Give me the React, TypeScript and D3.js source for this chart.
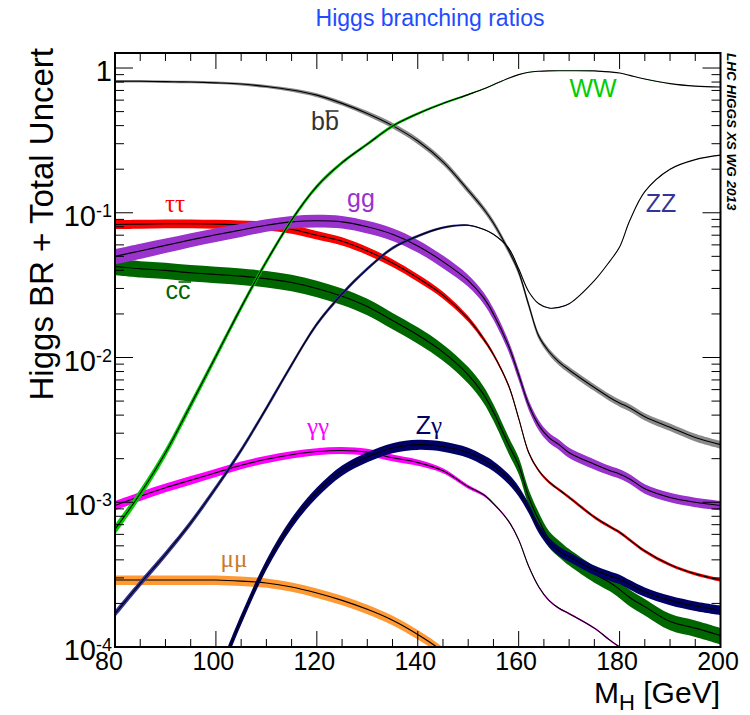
import React from "react";
import * as d3 from "d3";

// Higgs boson mass grid (GeV)
const massGrid = [80, 85, 90, 95, 100, 105, 110, 115, 120, 125, 130, 135, 140, 145, 150, 153, 155, 158, 160, 162, 164, 166, 168, 170, 175, 178, 180, 182, 185, 190, 195, 200];

// Branching ratios per decay channel (null where the channel is off the chart)
const brBB = [0.81, 0.81, 0.805, 0.8, 0.79, 0.775, 0.745, 0.705, 0.65, 0.57, 0.485, 0.4, 0.313, 0.225, 0.143, 0.107, 0.085, 0.055, 0.039, 0.023, 0.014, 0.011, 0.0093, 0.0082, 0.0062, 0.0053, 0.00485, 0.0045, 0.0039, 0.0033, 0.0028, 0.0025];
const brTauTau = [0.083, 0.0835, 0.084, 0.084, 0.0835, 0.0825, 0.081, 0.077, 0.07, 0.0635, 0.0545, 0.045, 0.0355, 0.027, 0.0185, 0.0135, 0.0105, 0.0064, 0.0038, 0.0022, 0.00165, 0.00138, 0.00122, 0.00108, 0.00079, 0.00068, 0.00062, 0.00055, 0.00046, 0.00037, 0.00032, 0.00029];
const brGG = [0.05, 0.0545, 0.0595, 0.065, 0.0705, 0.076, 0.082, 0.0865, 0.088, 0.0865, 0.08, 0.071, 0.059, 0.046, 0.034, 0.026, 0.02, 0.012, 0.0076, 0.0047, 0.0034, 0.0028, 0.0025, 0.0022, 0.00183, 0.00166, 0.00157, 0.00145, 0.00124, 0.00108, 0.001, 0.00095];
const brCC = [0.0425, 0.041, 0.04, 0.0385, 0.0375, 0.0365, 0.035, 0.033, 0.03, 0.0265, 0.0225, 0.018, 0.0143, 0.0109, 0.0076, 0.0056, 0.0042, 0.0025, 0.0018, 0.00108, 0.00075, 0.00056, 0.00048, 0.00042, 0.00032, 0.00028, 0.00025, 0.00022, 0.00019, 0.00015, 0.000135, 0.00012];
const brGamGam = [0.00095, 0.0011, 0.00126, 0.00142, 0.0016, 0.0018, 0.00198, 0.00213, 0.00224, 0.00228, 0.00222, 0.00203, 0.00188, 0.00165, 0.00128, 0.00113, 0.00098, 0.00074, 0.00055, 0.00036, 0.00026, 0.00021, 0.000185, 0.00017, 0.000135, 0.000112, 0.0001, 0.00009, 0.000078, 0.00006, 0.00005, 0.00004];
const brZGam = [null, null, null, null, 0.000058, 0.000155, 0.00037, 0.00072, 0.00117, 0.00166, 0.00205, 0.00237, 0.0025, 0.00243, 0.0022, 0.00196, 0.00178, 0.00145, 0.00119, 0.00091, 0.00066, 0.00053, 0.00046, 0.00042, 0.00034, 0.00031, 0.000294, 0.00027, 0.00024, 0.00021, 0.000192, 0.00018];
const brMuMu = [0.00029, 0.00029, 0.00029, 0.00029, 0.00029, 0.000285, 0.000277, 0.00026, 0.000236, 0.00021, 0.000182, 0.000153, 0.000122, 0.000093, 0.000065, null, null, null, null, null, null, null, null, null, null, null, null, null, null, null, null, null];
const brWW = [0.00065, 0.00115, 0.0022, 0.0047, 0.0102, 0.0222, 0.046, 0.089, 0.152, 0.222, 0.298, 0.397, 0.484, 0.569, 0.655, 0.715, 0.767, 0.85, 0.9, 0.935, 0.95, 0.956, 0.958, 0.958, 0.955, 0.94, 0.925, 0.89, 0.84, 0.78, 0.75, 0.74];
const brZZ = [0.00017, 0.000275, 0.000437, 0.00072, 0.00126, 0.00229, 0.00447, 0.0089, 0.017, 0.0275, 0.041, 0.057, 0.069, 0.079, 0.082, 0.077, 0.071, 0.057, 0.041, 0.0285, 0.0235, 0.022, 0.0222, 0.0235, 0.034, 0.046, 0.058, 0.088, 0.14, 0.2, 0.233, 0.25];

// Relative total uncertainty (half width of the band)
const uncBB = [0.02, 0.02, 0.02, 0.02, 0.02, 0.022, 0.025, 0.028, 0.032, 0.035, 0.04, 0.045, 0.048, 0.05, 0.05, 0.05, 0.05, 0.05, 0.05, 0.05, 0.05, 0.05, 0.052, 0.053, 0.055, 0.056, 0.057, 0.058, 0.058, 0.06, 0.06, 0.06];
const uncTauTau = [0.07, 0.07, 0.07, 0.07, 0.07, 0.07, 0.07, 0.07, 0.068, 0.066, 0.064, 0.062, 0.06, 0.055, 0.045, 0.038, 0.033, 0.028, 0.025, 0.025, 0.025, 0.025, 0.025, 0.025, 0.025, 0.025, 0.025, 0.025, 0.025, 0.025, 0.025, 0.025];
const uncGG = [0.12, 0.12, 0.115, 0.11, 0.11, 0.105, 0.1, 0.1, 0.1, 0.1, 0.1, 0.1, 0.1, 0.1, 0.095, 0.09, 0.09, 0.085, 0.085, 0.08, 0.08, 0.08, 0.08, 0.08, 0.08, 0.075, 0.075, 0.075, 0.075, 0.075, 0.075, 0.075];
const uncCC = [0.13, 0.13, 0.13, 0.13, 0.13, 0.13, 0.13, 0.13, 0.13, 0.13, 0.13, 0.13, 0.13, 0.13, 0.13, 0.13, 0.13, 0.13, 0.13, 0.13, 0.13, 0.13, 0.13, 0.13, 0.13, 0.13, 0.13, 0.13, 0.13, 0.13, 0.13, 0.13];
const uncGamGam = [0.075, 0.072, 0.07, 0.068, 0.065, 0.062, 0.06, 0.058, 0.056, 0.055, 0.055, 0.055, 0.05, 0.04, 0.03, 0.022, 0.018, 0.015, 0.015, 0.015, 0.015, 0.015, 0.015, 0.015, 0.015, 0.015, 0.015, 0.015, 0.015, 0.015, 0.015, 0.015];
const uncZGam = [null, null, null, null, 0.08, 0.08, 0.08, 0.08, 0.08, 0.08, 0.08, 0.08, 0.08, 0.08, 0.08, 0.08, 0.08, 0.08, 0.08, 0.078, 0.076, 0.075, 0.075, 0.075, 0.075, 0.075, 0.075, 0.075, 0.075, 0.075, 0.075, 0.075];
const uncMuMu = [0.075, 0.075, 0.075, 0.075, 0.075, 0.075, 0.075, 0.075, 0.075, 0.075, 0.075, 0.075, 0.075, 0.07, 0.07, null, null, null, null, null, null, null, null, null, null, null, null, null, null, null, null, null];
const uncWW = [0.08, 0.075, 0.07, 0.065, 0.058, 0.052, 0.046, 0.04, 0.035, 0.03, 0.027, 0.024, 0.021, 0.018, 0.012, 0.008, 0.006, 0.004, 0.003, 0.003, 0.003, 0.003, 0.003, 0.003, 0.003, 0.003, 0.003, 0.003, 0.003, 0.003, 0.003, 0.003];
const uncZZ = [0.055, 0.052, 0.05, 0.048, 0.045, 0.042, 0.04, 0.037, 0.034, 0.031, 0.028, 0.025, 0.022, 0.018, 0.012, 0.008, 0.006, 0.004, 0.003, 0.003, 0.003, 0.003, 0.003, 0.003, 0.003, 0.003, 0.003, 0.003, 0.003, 0.003, 0.003, 0.003];

// Axis ticks
const xMajorTicks = [80, 100, 120, 140, 160, 180, 200];
const xMinorTicks = [80, 85, 90, 95, 100, 105, 110, 115, 120, 125, 130, 135, 140, 145, 150, 155, 160, 165, 170, 175, 180, 185, 190, 195, 200];
const yDecadeExponents = [-4, -3, -2, -1, 0];

const SANS = '"Liberation Sans", Arial, Helvetica, sans-serif';
const SERIF = '"Liberation Serif", "DejaVu Serif", serif';

type Channel = { id: string; br: (number | null)[]; unc: (number | null)[]; band: string };

// Drawing order: later channels sit on top
const channels: Channel[] = [
  { id: "bb", br: brBB, unc: uncBB, band: "#8a8a8a" },
  { id: "tautau", br: brTauTau, unc: uncTauTau, band: "#ff0000" },
  { id: "cc", br: brCC, unc: uncCC, band: "#006600" },
  { id: "gg", br: brGG, unc: uncGG, band: "#9933cc" },
  { id: "mumu", br: brMuMu, unc: uncMuMu, band: "#ff9933" },
  { id: "gamgam", br: brGamGam, unc: uncGamGam, band: "#ff00ff" },
  { id: "Zgam", br: brZGam, unc: uncZGam, band: "#000066" },
  { id: "WW", br: brWW, unc: uncWW, band: "#00cc00" },
  { id: "ZZ", br: brZZ, unc: uncZZ, band: "#333399" },
];

export default function App() {
  const left = 115;
  const right = 720.5;
  const top = 53;
  const bottom = 647;

  const x = d3.scaleLinear().domain([80, 200]).range([left, right]);
  const y = d3.scaleLog().domain([1e-4, 1.27]).range([bottom, top]);
  const idx = d3.range(massGrid.length);
  const curve = d3.curveCatmullRom.alpha(0.5);

  const bandPath = (c: Channel) =>
    d3
      .area<number>()
      .defined((i) => c.br[i] != null)
      .x((i) => x(massGrid[i]))
      .y0((i) => y((c.br[i] as number) * (1 - (c.unc[i] as number))))
      .y1((i) => y((c.br[i] as number) * (1 + (c.unc[i] as number))))
      .curve(curve)(idx) || "";

  const centerPath = (c: Channel) =>
    d3
      .line<number>()
      .defined((i) => c.br[i] != null)
      .x((i) => x(massGrid[i]))
      .y((i) => y(c.br[i] as number))
      .curve(curve)(idx) || "";

  const yTicks = y.ticks().filter((v) => v <= 1.0000001);
  const isDecade = (v: number) => Math.abs(Math.log10(v) - Math.round(Math.log10(v))) < 1e-6;

  const labelSize = 25;

  return (
    <svg
      width={750}
      height={715}
      viewBox="0 0 750 715"
      style={{ position: "absolute", left: 0, top: 0, background: "#fff" }}
    >
      <rect x={0} y={0} width={750} height={715} fill="#fff" />
      <defs>
        <clipPath id="plotArea">
          <rect x={left} y={top} width={right - left} height={bottom - top} />
        </clipPath>
      </defs>

      {/* Title */}
      <text x={430} y={26} textAnchor="middle" fontFamily={SANS} fontSize={23} fill="#1f4cff">
        Higgs branching ratios
      </text>

      {/* Bands with central values */}
      <g clipPath="url(#plotArea)">
        {channels.map((c) => (
          <g key={c.id}>
            <path d={bandPath(c)} fill={c.band} stroke="none" />
            <path d={centerPath(c)} fill="none" stroke="#000" strokeWidth={1.1} />
          </g>
        ))}
      </g>

      {/* Channel labels */}
      <g fontSize={labelSize}>
        <text x={325} y={130} textAnchor="middle" fontFamily={SANS} fill="#333333">bb</text>
        <line x1={325.5} x2={338.5} y1={111} y2={111} stroke="#333333" strokeWidth={1.6} />
        <text x={175} y={212} textAnchor="middle" fontFamily={SERIF} fill="#ff0000">ττ</text>
        <text x={361} y={206.5} textAnchor="middle" fontFamily={SANS} fill="#9933cc">gg</text>
        <text x={178} y={298.5} textAnchor="middle" fontFamily={SANS} fill="#006600">cc</text>
        <line x1={178.5} x2={191} y1={282} y2={282} stroke="#006600" strokeWidth={1.6} />
        <text x={593} y={96.5} textAnchor="middle" fontFamily={SANS} fill="#00cc00">WW</text>
        <text x={661} y={211.5} textAnchor="middle" fontFamily={SANS} fill="#333399">ZZ</text>
        <text x={318} y={434.5} textAnchor="middle" fontFamily={SERIF} fill="#ff00ff">γγ</text>
        <text x={429} y={433.5} textAnchor="middle" fill="#000066">
          <tspan fontFamily={SANS}>Z</tspan>
          <tspan fontFamily={SERIF}>γ</tspan>
        </text>
        <text x={234} y={567} textAnchor="middle" fontFamily={SERIF} fill="#cc7a29">μμ</text>
      </g>

      {/* Frame */}
      <rect x={left} y={top} width={right - left} height={bottom - top} fill="none" stroke="#000" strokeWidth={2} />

      {/* Ticks on all four sides */}
      <g stroke="#000" strokeWidth={1}>
        {xMinorTicks.map((m) => {
          const major = xMajorTicks.includes(m);
          const len = major ? 16 : 8;
          return (
            <g key={"xt" + m}>
              <line x1={x(m)} x2={x(m)} y1={bottom} y2={bottom - len} />
              <line x1={x(m)} x2={x(m)} y1={top} y2={top + len} />
            </g>
          );
        })}
        {yTicks.map((v) => {
          const len = isDecade(v) ? 18 : 9;
          return (
            <g key={"yt" + v}>
              <line x1={left} x2={left + len} y1={y(v)} y2={y(v)} />
              <line x1={right} x2={right - len} y1={y(v)} y2={y(v)} />
            </g>
          );
        })}
      </g>

      {/* X tick labels */}
      <g fontFamily={SANS} fontSize={25} fill="#000" textAnchor="middle">
        {xMajorTicks.map((m, i) => (
          <text key={"xl" + m} x={x(m) - (i === 0 ? 6 : 2.5)} y={670}>
            {m}
          </text>
        ))}
      </g>

      {/* Y tick labels */}
      <g fontFamily={SANS} fontSize={29} fill="#000" textAnchor="end">
        {yDecadeExponents.map((e) => (
          <text key={"yl" + e} x={112} y={y(Math.pow(10, e)) + 13}>
            {e === 0 ? (
              "1"
            ) : (
              <>
                10
                <tspan fontSize={18} dy={-9}>
                  {String(e)}
                </tspan>
              </>
            )}
          </text>
        ))}
      </g>

      {/* Axis titles */}
      <text x={720} y={703} textAnchor="end" fontFamily={SANS} fontSize={30} fill="#000">
        M
        <tspan fontSize={22} dy={7}>H</tspan>
        <tspan dy={-7}> [GeV]</tspan>
      </text>
      <text
        transform="translate(53,48) rotate(-90)"
        textAnchor="end"
        fontFamily={SANS}
        fontSize={33}
        fill="#000"
      >
        Higgs BR + Total Uncert
      </text>

      {/* Working group tag */}
      <text
        transform="translate(727,53) rotate(90)"
        fontFamily={SANS}
        fontSize={13.5}
        fontWeight="bold"
        fontStyle="italic"
        fill="#000"
      >
        LHC HIGGS XS WG 2013
      </text>
    </svg>
  );
}
